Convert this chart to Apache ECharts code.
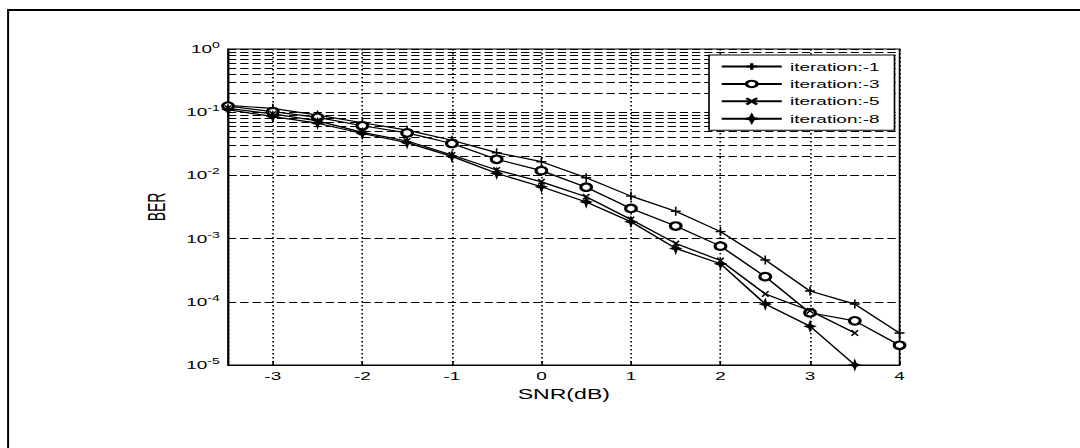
<!DOCTYPE html>
<html>
<head>
<meta charset="utf-8">
<script src="https://cdn.jsdelivr.net/npm/echarts@6/dist/echarts.min.js"></script>
<style>
  html, body { margin: 0; padding: 0; background: #fff; overflow: hidden; }
  /* the reference picture is stretched sideways, so draw narrow and scale x */
  #chart { width: 654.5px; height: 448px; transform: scaleX(1.65); transform-origin: 0 0; }
</style>
</head>
<body>
<div id="chart"></div>
<script>
// SNR points (dB)
const snr = [-3.5, -3, -2.5, -2, -1.5, -1, -0.5, 0, 0.5, 1, 1.5, 2, 2.5, 3, 3.5, 4]

// BER per iteration
const ber1 = [0.128, 0.115, 0.090, 0.068, 0.052, 0.036, 0.0229, 0.0165, 0.0092, 0.0047, 0.0027, 0.00129, 4.6e-4, 1.48e-4, 9.2e-5, 3.2e-5]
const ber3 = [0.125, 0.102, 0.083, 0.061, 0.047, 0.032, 0.018, 0.0119, 0.0065, 0.0030, 0.00158, 7.6e-4, 2.5e-4, 6.7e-5, 5.0e-5, 2.05e-5]
const ber5 = [0.115, 0.094, 0.073, 0.048, 0.035, 0.021, 0.0122, 0.0079, 0.0046, 0.0020, 8.4e-4, 4.5e-4, 1.33e-4, 7.2e-5, 3.2e-5, null]
const ber8 = [0.110, 0.085, 0.067, 0.046, 0.033, 0.020, 0.0108, 0.0066, 0.0038, 0.00185, 7.0e-4, 4.0e-4, 9.2e-5, 4.1e-5, 1.0e-5, null]

const names = ['iteration:-1', 'iteration:-3', 'iteration:-5', 'iteration:-8']

// minor log gridlines 2..9 x 10^d
const minorLines = []
for (let d = -5; d < 0; d++) {
  for (let k = 2; k <= 9; k++) minorLines.push({ yAxis: k * Math.pow(10, d) })
}

const FONT = '"Liberation Sans", Arial, sans-serif'
const dashH = { color: '#000', width: 1, type: [5, 2.4] }

function pairs(ys) {
  return snr.map((x, i) => [x, ys[i]])
}

function lineSeries(name, ys, symbol, size) {
  return {
    name: name,
    type: 'line',
    data: pairs(ys),
    symbol: symbol,
    symbolSize: size,
    showAllSymbol: true,
    connectNulls: false,
    z: 3,
    lineStyle: { color: '#000', width: 1.2 },
    itemStyle: { color: '#000', borderColor: '#000', borderWidth: 1.2 },
    emphasis: { disabled: true },
  }
}

const chart = echarts.init(document.getElementById('chart'), null, { renderer: 'svg' })

chart.setOption({
  animation: false,
  backgroundColor: '#fff',
  textStyle: { fontFamily: FONT },
  graphic: [
    { type: 'line', shape: { x1: 4.9, y1: 10, x2: 700, y2: 10 }, style: { stroke: '#000', lineWidth: 2 }, silent: true },
    { type: 'line', shape: { x1: 4.9, y1: 9, x2: 4.9, y2: 460 }, style: { stroke: '#000', lineWidth: 1.2 }, silent: true },
  ],
  grid: { left: 138.2, top: 49, width: 407, height: 316, show: true, borderColor: '#000', borderWidth: 1, backgroundColor: 'transparent' },
  legend: {
    data: names,
    orient: 'vertical',
    left: 429.7,
    top: 55,
    z: 10,
    padding: [5.5, 9, 5.5, 6.7],
    itemWidth: 36.4,
    itemHeight: 8,
    itemGap: 5.4,
    backgroundColor: '#fff',
    borderColor: '#000',
    borderWidth: 1,
    borderRadius: 0,
    textStyle: { color: '#000', fontSize: 11.5, fontFamily: FONT, lineHeight: 12 },
  },
  xAxis: {
    type: 'value',
    min: -3.5,
    max: 4,
    splitNumber: 8,
    name: 'SNR(dB)',
    nameLocation: 'middle',
    nameGap: 20,
    nameTextStyle: { color: '#000', fontSize: 14, fontFamily: FONT },
    axisLine: { show: true, onZero: false, lineStyle: { color: '#000', width: 1 } },
    axisTick: { show: true, inside: true, length: 4, lineStyle: { color: '#000' } },
    axisLabel: { color: '#000', fontSize: 11.5, fontFamily: FONT, margin: 5, showMinLabel: false },
    splitLine: { show: true, lineStyle: { color: '#000', width: 1, type: [1.5, 2.5] } },
  },
  yAxis: {
    type: 'log',
    logBase: 10,
    min: 1e-5,
    max: 1,
    name: 'BER',
    nameLocation: 'middle',
    nameGap: 32,
    nameRotate: 90,
    nameTextStyle: { color: '#000', fontSize: 14, fontFamily: FONT },
    axisLine: { show: true, onZero: false, lineStyle: { color: '#000', width: 1 } },
    axisTick: { show: true, inside: true, length: 4, lineStyle: { color: '#000' } },
    axisLabel: {
      color: '#000',
      margin: 5,
      formatter: (v) => '{b|10}{s|' + Math.round(Math.log10(v)) + '}',
      rich: {
        b: { fontSize: 11.5, fontFamily: FONT, color: '#000' },
        s: { fontSize: 8.5, fontFamily: FONT, color: '#000', padding: [0, 0, 8, 0] },
      },
    },
    splitLine: { show: true, lineStyle: dashH },
  },
  series: [
    {
      name: 'grid-minor',
      type: 'line',
      data: [],
      z: 1,
      silent: true,
      markLine: {
        silent: true,
        z: 1,
        symbol: 'none',
        label: { show: false },
        lineStyle: dashH,
        emphasis: { disabled: true },
        animation: false,
        data: minorLines,
      },
    },
    lineSeries(names[0], ber1, 'path://M0,5H10M5,0V10', [6, 9]),
    lineSeries(names[1], ber3, 'emptyCircle', [6.5, 7.5]),
    lineSeries(names[2], ber5, 'path://M0,0L10,10M10,0L0,10', [4, 5.5]),
    lineSeries(names[3], ber8, 'path://M5,0L6.3,3.7L10,5L6.3,6.3L5,10L3.7,6.3L0,5L3.7,3.7Z', [5.5, 9]),
  ],
})
</script>
</body>
</html>
